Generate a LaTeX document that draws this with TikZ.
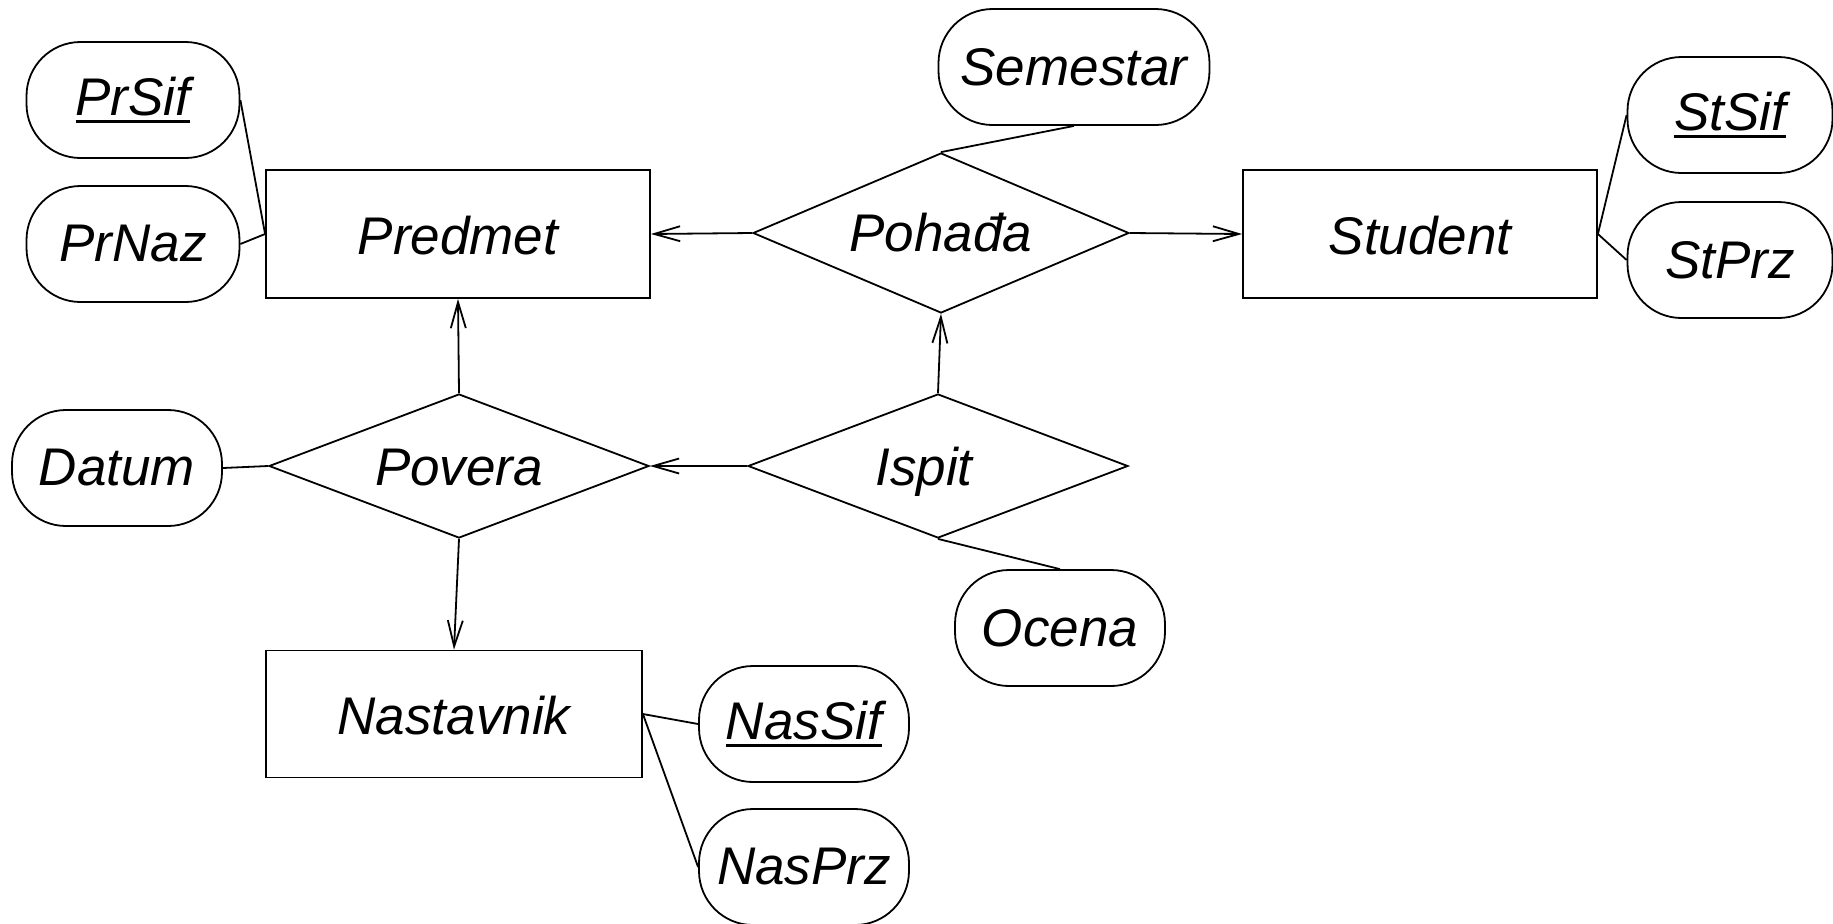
\documentclass[tikz,border=0pt]{standalone}
\usepackage{fontspec}
\setmainfont{Liberation Sans}
\usetikzlibrary{shapes.geometric,arrows.meta}
\newcommand{\keyattr}[1]{\setbox0\hbox{#1}\rlap{\rule[-4pt]{\wd0}{1.6pt}}\box0}
\newcommand{\lowtext}[2]{\raisebox{-#1}[\height][\depth]{#2}}
\begin{document}
\begin{tikzpicture}[x=0.5pt,y=-0.5pt,
  every node/.style={font=\itshape\fontsize{26.5}{30}\selectfont, line width=0.9pt, inner sep=0pt},
  line width=0.9pt,
  ent/.style={draw, rectangle, minimum width=190pt, minimum height=64pt},
  attr/.style={draw, rectangle, rounded corners=27pt, minimum width=105pt, minimum height=58pt},
  rel/.style={draw, diamond, aspect=2.5, minimum width=190pt, minimum height=72pt},
  arr/.style={-{Straight Barb[length=13pt,width=7.5pt]}}]
\useasboundingbox (0,0) rectangle (1833,923);
% entities
\node[ent, minimum width=192pt] (predmet) at (458,234) {\lowtext{1pt}{Predmet}};
\node[ent, minimum width=177pt] (student) at (1420,234) {\lowtext{1pt}{Student}};
\node[ent, minimum width=188pt, minimum height=63.5pt] (nast) at (454,714) {\lowtext{1pt}{Nastavnik}};
% relationships
\node[rel, minimum width=188pt, minimum height=80pt] (pohadja) at (941,233) {Pohađa};
\node[rel] (povera) at (459,466) {\lowtext{1pt}{Povera}};
\node[rel] (ispit) at (938,466) {\hspace*{-14pt}\lowtext{3pt}{Ispit}};
% attributes
\node[attr, minimum width=106.5pt] (prsif) at (133,100) {\keyattr{PrSif}};
\node[attr, minimum width=106.5pt] (prnaz) at (133,244) {PrNaz};
\node[attr, minimum width=135.5pt] (sem) at (1074,67) {Semestar};
\node[attr, minimum width=102.5pt] (stsif) at (1730,115) {\keyattr{StSif}};
\node[attr, minimum width=102.5pt] (stprz) at (1730,260) {StPrz};
\node[attr] (datum) at (117,468) {Datum};
\node[attr] (ocena) at (1060,628) {Ocena};
\node[attr] (nassif) at (804,724) {\keyattr{NasSif}};
\node[attr] (nasprz) at (804,867) {NasPrz};
% connectors
\draw (prsif.east) -- (predmet.west);
\draw (prnaz.east) -- (predmet.west);
\draw[arr] (pohadja.west) -- (predmet.east);
\draw[arr] (pohadja.east) -- (student.west);
\draw (sem.south) -- (pohadja.north);
\draw (student.east) -- (stsif.west);
\draw (student.east) -- (stprz.west);
\draw[arr] (povera.north) -- (predmet.south);
\draw[arr] (ispit.north) -- (pohadja.south);
\draw[arr] (ispit.west) -- (povera.east);
\draw (datum.east) -- (povera.west);
\draw (ispit.south) -- (ocena.north);
\draw[arr] (povera.south) -- (nast.north);
\draw (nast.east) -- (nassif.west);
\draw (nast.east) -- (nasprz.west);
\end{tikzpicture}
\end{document}
